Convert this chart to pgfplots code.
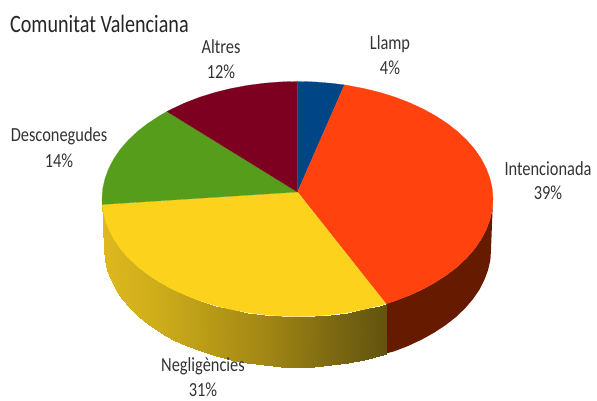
\documentclass[border=0pt]{standalone}
\usepackage{pgfplots}
\pgfplotsset{compat=1.18}
\usepackage{fontspec}
\setmainfont{Carlito}
\definecolor{cLl}{HTML}{004586}
\definecolor{cIn}{HTML}{FF420E}
\definecolor{cNe}{HTML}{FCD21C}
\definecolor{cDe}{HTML}{579D1C}
\definecolor{cAl}{HTML}{7E0021}
\definecolor{cWr}{HTML}{661A00}
\begin{document}
\begin{tikzpicture}
\begin{axis}[scale only axis,width=597pt,height=401pt,xmin=0,xmax=597,ymin=0,ymax=401,y dir=reverse,hide axis,clip=false,
 colormap={wall}{rgb255=(222,184,29) rgb255=(205,172,27) rgb255=(182,152,23) rgb255=(158,132,20) rgb255=(126,106,18) rgb255=(98,84,15)},
 point meta min=102,point meta max=386]
\path (axis cs:0,0) rectangle (axis cs:597,401);
% red wall
\addplot[draw=none,fill=cWr] coordinates {(386,303.8)(395.3,300.8)(409.6,295.3)(423.2,289.0)(435.7,282.1)(447.3,274.5)(457.7,266.4)(466.8,257.8)(474.7,248.7)(481.2,239.2)(486.3,229.4)(490.0,219.4)(492.3,209.2)(493,199)(491,249.5)(490.4,259.7)(488.1,269.9)(484.4,279.9)(479.4,289.7)(472.9,299.2)(465.1,308.3)(456.1,316.9)(445.8,325.0)(434.3,332.6)(421.9,339.5)(408.5,345.8)(394.3,351.3)(386,353.5)};
% yellow wall
\addplot[surf,shader=interp,point meta=x,mesh/rows=2,mesh/ordering=x varies] coordinates {(102,199)(102.7,209.2)(105,219.4)(108.7,229.4)(113.8,239.2)(120.3,248.7)(128.2,257.8)(137.3,266.4)(147.7,274.5)(159.3,282.1)(171.8,289.0)(185.4,295.3)(199.7,300.8)(214.9,305.5)(230.6,309.4)(246.9,312.5)(263.6,314.7)(280.5,316.1)(297.5,316.5)(314.5,316.1)(331.4,314.7)(348.1,312.5)(364.4,309.4)(380.1,305.5)(386,303.8)

(104,249.5)(104.6,259.7)(106.9,269.9)(110.6,279.9)(115.6,289.7)(122.1,299.2)(129.9,308.3)(138.9,316.9)(149.2,325)(160.7,332.6)(173.1,339.5)(186.5,345.8)(200.7,351.3)(215.7,356)(231.3,359.9)(247.4,363)(263.9,365.2)(280.7,366.6)(297.5,367)(314.3,366.6)(331.1,365.2)(347.6,363)(363.7,359.9)(379.3,356)(386,353.5)};
% Llamp 4
\addplot[draw=cLl,line width=0.2pt,fill=cLl] coordinates {(297.5,192)(297.5,81.5)(314.5,81.9)(331.4,83.3)(344.5,84.9)};
% Intencionada 39
\addplot[draw=cIn,line width=0.2pt,fill=cIn] coordinates {(297.5,192)(344.5,84.9)(348.1,85.5)(364.4,88.6)(380.1,92.5)(395.3,97.2)(409.6,102.7)(423.2,109.0)(435.7,115.9)(447.3,123.5)(457.7,131.6)(466.8,140.2)(474.7,149.3)(481.2,158.8)(486.3,168.6)(490.0,178.6)(492.3,188.8)(493.0,199)(492.3,209.2)(490.0,219.4)(486.3,229.4)(481.2,239.2)(474.7,248.7)(466.8,257.8)(457.7,266.4)(447.3,274.5)(435.7,282.1)(423.2,289.0)(409.6,295.3)(395.3,300.8)(386,303.8)};
% Negligencies 31
\addplot[draw=cNe,line width=0.2pt,fill=cNe] coordinates {(297.5,192)(386,303.8)(380.1,305.5)(364.4,309.4)(348.1,312.5)(331.4,314.7)(314.5,316.1)(297.5,316.5)(280.5,316.1)(263.6,314.7)(246.9,312.5)(230.6,309.4)(214.9,305.5)(199.7,300.8)(185.4,295.3)(171.8,289.0)(159.3,282.1)(147.7,274.5)(137.3,266.4)(128.2,257.8)(120.3,248.7)(113.8,239.2)(108.7,229.4)(105.0,219.4)(102.7,209.2)(102.2,204.5)};
% Desconegudes 14
\addplot[draw=cDe,line width=0.2pt,fill=cDe] coordinates {(297.5,192)(102.2,204.5)(102.0,199)(102.7,188.8)(105.0,178.6)(108.7,168.6)(113.8,158.8)(120.3,149.3)(128.2,140.2)(137.3,131.6)(147.7,123.5)(159.3,115.9)(167,111.5)};
% Altres 12
\addplot[draw=cAl,line width=0.2pt,fill=cAl] coordinates {(297.5,192)(167,111.5)(171.8,109.0)(185.4,102.7)(199.7,97.2)(214.9,92.5)(230.6,88.6)(246.9,85.5)(263.6,83.3)(280.5,81.9)(297.5,81.5)};
\node[anchor=west,inner sep=0pt,text=black!85,font=\fontsize{25}{30}\selectfont,xscale=0.805] at (axis cs:10,24) {Comunitat Valenciana};
\begin{scope}[every node/.append style={font=\fontsize{20}{24}\selectfont,text=black!80,xscale=0.82,inner sep=0pt}]
\node at (axis cs:390,44) {Llamp};
\node at (axis cs:390,68) {4\%};
\node at (axis cs:548,169) {Intencionada};
\node at (axis cs:548,193) {39\%};
\node at (axis cs:221,47) {Altres};
\node at (axis cs:221,72) {12\%};
\node at (axis cs:59,136) {Desconegudes};
\node at (axis cs:59,161) {14\%};
\node at (axis cs:203,366) {Negligències};
\node at (axis cs:203,389.5) {31\%};
\end{scope}
\end{axis}
\end{tikzpicture}
\end{document}
